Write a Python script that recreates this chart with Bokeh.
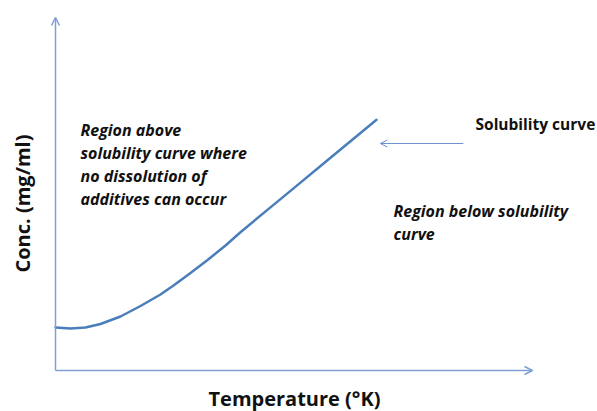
from bokeh.plotting import figure
from bokeh.models import Range1d, Arrow, OpenHead, Label
from bokeh.embed import file_html
from bokeh.resources import INLINE

# Data (arbitrary units: temperature 0-100, concentration 0-100)
temperature = [0.0, 3.14, 6.29, 9.43, 13.63, 17.82, 22.01, 24.74, 28.30, 31.87,
               35.64, 38.78, 45.07, 49.90, 57.02, 63.94, 67.30]
concentration = [12.18, 11.90, 12.18, 13.17, 15.30, 18.27, 21.53, 24.08, 27.62, 31.30,
                 35.41, 39.18, 46.22, 51.59, 59.55, 67.28, 71.02]

x_label = "Temperature (°K)"
y_label = "Conc. (mg/ml)"
curve_name = "Solubility curve"
above_lines = ["Region above", "solubility curve where", "no dissolution  of", "additives can occur"]
below_lines = ["Region below solubility", "curve"]

SX, SY = 4.77, 3.53
p = figure(width=597, height=411, output_backend="svg", toolbar_location=None,
           x_range=Range1d(-55 / SX, (597 - 55) / SX),
           y_range=Range1d((370 - 411) / SY, 370 / SY),
           min_border=0)
p.axis.visible = False
p.grid.visible = False
p.outline_line_color = None
p.background_fill_color = "white"

axis_color = "#7FA0D2"
p.add_layout(Arrow(x_start=0, y_start=0, x_end=0, y_end=100,
                   line_color=axis_color, line_width=1.5,
                   end=OpenHead(size=8, line_color=axis_color, line_width=1.5)))
p.add_layout(Arrow(x_start=0, y_start=0, x_end=100, y_end=0,
                   line_color=axis_color, line_width=1.5,
                   end=OpenHead(size=8, line_color=axis_color, line_width=1.5)))

p.line(temperature, concentration, line_color="#4A7EBB", line_width=2.5,
       line_join="round", line_cap="round")

p.add_layout(Arrow(x_start=85.5, y_start=64.3, x_end=68.1, y_end=64.3,
                   line_color="#6A92CC", line_width=1,
                   end=OpenHead(size=7, line_color="#6A92CC", line_width=1)))

font = "Open Sans"
p.add_layout(Label(x=88.05, y=69.97, text=curve_name, text_font=font, text_font_style="bold",
                   text_font_size="15.5px", text_baseline="middle", text_color="#111111"))

ys_above = [68.0, 61.5, 55.2, 48.7]
for t, yy in zip(above_lines, ys_above):
    p.add_layout(Label(x=5.24, y=yy, text=t, text_font=font, text_font_style="bold italic",
                       text_font_size="16px", text_baseline="middle", text_color="#111111"))

ys_below = [45.3, 38.8]
for t, yy in zip(below_lines, ys_below):
    p.add_layout(Label(x=70.86, y=yy, text=t, text_font=font, text_font_style="bold italic",
                       text_font_size="16px", text_baseline="middle", text_color="#111111"))

p.add_layout(Label(x=50.1, y=-7.93, text=x_label, text_font=font, text_font_style="bold",
                   text_font_size="20px", text_align="center", text_baseline="middle",
                   text_color="#111111"))
p.add_layout(Label(x=-6.92, y=47.3, text=y_label, text_font=font, text_font_style="bold",
                   text_font_size="20px", text_align="center", text_baseline="middle",
                   angle=1.5707963, text_color="#111111"))

open("out.html", "w").write(file_html(p, INLINE))
